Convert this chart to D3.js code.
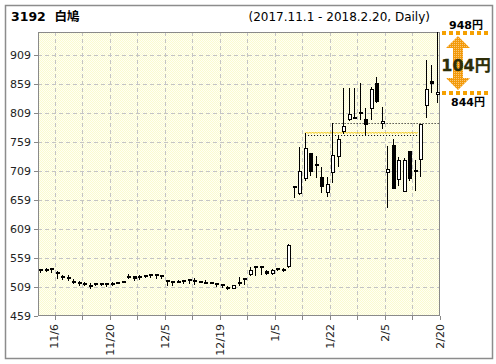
<!DOCTYPE html>
<html>
<head>
<meta charset="utf-8">
<script src="https://cdn.jsdelivr.net/npm/d3@7"></script>
<style>
  body { margin: 0; background: #fff; }
  svg { display: block; font-family: Verdana, "DejaVu Sans", "Noto Sans CJK JP", sans-serif; }
</style>
</head>
<body>
<svg id="chart" width="496" height="364"></svg>
<script>
'use strict';

// trading days, 2017.11.1 - 2018.2.20
const dates = [
  '11/1', '11/2', '11/6', '11/7', '11/8', '11/9', '11/10', '11/13', '11/14', '11/15',
  '11/16', '11/17', '11/20', '11/21', '11/22', '11/24', '11/27', '11/28', '11/29', '11/30',
  '12/1', '12/4', '12/5', '12/6', '12/7', '12/8', '12/11', '12/12', '12/13', '12/14',
  '12/15', '12/18', '12/19', '12/20', '12/21', '12/22', '12/25', '12/26', '12/27', '12/28',
  '12/29', '1/4', '1/5', '1/9', '1/10', '1/11', '1/12', '1/15', '1/16', '1/17',
  '1/18', '1/19', '1/22', '1/23', '1/24', '1/25', '1/26', '1/29', '1/30', '1/31',
  '2/1', '2/2', '2/5', '2/6', '2/7', '2/8', '2/9', '2/13', '2/14', '2/15',
  '2/16', '2/19', '2/20',
];

const open = [
  540, 540, 541, 534, 528, 527, 519, 517, 515, 512,
  515, 516, 516, 515, 517, 519, 528, 528, 528, 530,
  531, 531, 530, 521, 520, 520, 521, 522, 521, 519,
  518, 517, 516, 514, 509, 507, 518, 525, 531, 545,
  545, 537, 533, 542, 540, 544, 683, 671, 696, 739,
  720, 698, 673, 707, 733, 778, 799, 802, 811, 799,
  817, 860, 791, 706, 754, 695, 675, 743, 711, 728,
  821, 864, 840,
];
const high = [
  540, 542, 541, 536, 530, 530, 523, 519, 518, 516,
  515, 516, 516, 517, 518, 519, 531, 528, 530, 530,
  531, 531, 530, 521, 520, 521, 521, 522, 524, 519,
  521, 517, 516, 514, 511, 512, 526, 525, 543, 545,
  545, 538, 540, 542, 542, 583, 683, 750, 774, 740,
  734, 716, 699, 791, 771, 851, 851, 851, 860, 817,
  854, 871, 819, 752, 763, 732, 731, 743, 728, 789,
  899, 891, 948,
];
const low = [
  535, 536, 534, 525, 522, 521, 516, 512, 512, 507,
  512, 512, 511, 512, 515, 517, 524, 521, 522, 527,
  526, 525, 524, 513, 513, 519, 516, 515, 514, 517,
  515, 515, 511, 509, 505, 507, 512, 514, 530, 530,
  532, 531, 532, 538, 537, 543, 664, 669, 693, 702,
  699, 673, 666, 690, 717, 774, 796, 801, 799, 771,
  799, 828, 782, 647, 679, 684, 674, 693, 676, 700,
  802, 845, 828,
];
const close = [
  539, 540, 538, 534, 528, 527, 516, 514, 514, 509,
  515, 516, 515, 515, 517, 519, 528, 522, 528, 530,
  529, 529, 526, 521, 516, 520, 520, 520, 517, 517,
  518, 515, 516, 514, 506, 512, 518, 525, 538, 543,
  542, 532, 538, 538, 540, 581, 681, 709, 748, 707,
  716, 681, 687, 737, 763, 786, 807, 802, 807, 788,
  849, 828, 795, 712, 679, 728, 728, 695, 709, 789,
  849, 858, 844,
];

const yTicks = [459, 509, 559, 609, 659, 709, 759, 809, 859, 909];
const tickDates = ['11/6', '11/13', '11/20', '11/28', '12/5', '12/12', '12/19', '12/26',
  '1/5', '1/15', '1/22', '1/29', '2/5', '2/13', '2/20'];
const labelDates = ['11/6', '11/20', '12/5', '12/19', '1/5', '1/22', '2/5', '2/20'];

// horizontal guide lines
const resistance = { price: 774, from: '1/16', to: '2/14' };
const prevHigh = { price: 791, from: '1/23', to: '2/20' };

const rangeHigh = 948;
const rangeLast = 844;

const code = '3192';
const name = '白鳩';
const period = '(2017.11.1 - 2018.2.20, Daily)';

const margin = { top: 32, right: 56, bottom: 48, left: 38 };
const width = 496;
const height = 364;

const svg = d3.select('#chart');

const x = d3
  .scaleBand()
  .domain(dates)
  .range([margin.left, width - margin.right]);
const bw = x.bandwidth();
const cx = function(d) {
  return x(d) + bw / 2;
};

const y = d3
  .scaleLinear()
  .domain([459, 948])
  .range([height - margin.bottom, margin.top]);

const plotL = margin.left;
const plotR = width - margin.right;
const plotT = margin.top;
const plotB = height - margin.bottom;

// background patterns
const defs = svg.append('defs');
const bgPat = defs
  .append('pattern')
  .attr('id', 'bg-dots')
  .attr('width', 2)
  .attr('height', 2)
  .attr('patternUnits', 'userSpaceOnUse');
bgPat.append('rect').attr('width', 2).attr('height', 2).attr('fill', '#fffff4');
bgPat.append('rect').attr('width', 1).attr('height', 1).attr('fill', '#fafad0');
bgPat.append('rect').attr('x', 1).attr('y', 1).attr('width', 1).attr('height', 1).attr('fill', '#fafad0');

const arPat = defs
  .append('pattern')
  .attr('id', 'arrow-dots')
  .attr('width', 2)
  .attr('height', 2)
  .attr('patternUnits', 'userSpaceOnUse');
arPat.append('rect').attr('width', 2).attr('height', 2).attr('fill', '#f39a0a');
arPat.append('rect').attr('width', 1).attr('height', 1).attr('fill', '#f9c878');

// outer frame
svg
  .append('rect')
  .attr('x', 5.5)
  .attr('y', 5.5)
  .attr('width', 487)
  .attr('height', 353)
  .attr('fill', '#fff')
  .attr('stroke', '#8c8c8c')
  .attr('stroke-width', 1.5);

// title
svg
  .append('text')
  .attr('x', 11)
  .attr('y', 21)
  .attr('font-size', 12.5)
  .attr('font-weight', 'bold')
  .attr('fill', '#000')
  .attr('xml:space', 'preserve')
  .text(code + '  ' + name);

svg
  .append('text')
  .attr('x', 430)
  .attr('y', 21)
  .attr('text-anchor', 'end')
  .attr('font-size', 12)
  .attr('fill', '#000')
  .text(period);

// plot area
svg
  .append('rect')
  .attr('x', plotL)
  .attr('y', plotT)
  .attr('width', plotR - plotL)
  .attr('height', plotB - plotT)
  .attr('fill', 'url(#bg-dots)');

const grid = svg.append('g').attr('class', 'grid');
grid
  .selectAll('.hgrid')
  .data(yTicks.slice(1))
  .enter()
  .append('line')
  .attr('x1', plotL)
  .attr('x2', plotR)
  .attr('y1', function(d) {
    return Math.round(y(d)) + 0.5;
  })
  .attr('y2', function(d) {
    return Math.round(y(d)) + 0.5;
  })
  .attr('stroke', '#c4c4c4')
  .attr('stroke-dasharray', '4,3');

grid
  .selectAll('.vgrid')
  .data(tickDates.slice(0, -1))
  .enter()
  .append('line')
  .attr('x1', function(d) {
    return Math.round(x(d) + bw) + 0.5;
  })
  .attr('x2', function(d) {
    return Math.round(x(d) + bw) + 0.5;
  })
  .attr('y1', plotT)
  .attr('y2', plotB)
  .attr('stroke', '#c4c4c4')
  .attr('stroke-dasharray', '4,3');

// y axis
const yAxis = svg.append('g').attr('class', 'y-axis');
yAxis
  .selectAll('line')
  .data(yTicks)
  .enter()
  .append('line')
  .attr('x1', plotL - 4)
  .attr('x2', plotL)
  .attr('y1', function(d) {
    return Math.round(y(d)) + 0.5;
  })
  .attr('y2', function(d) {
    return Math.round(y(d)) + 0.5;
  })
  .attr('stroke', '#888');
yAxis
  .selectAll('text')
  .data(yTicks)
  .enter()
  .append('text')
  .attr('x', plotL - 7)
  .attr('y', function(d) {
    return y(d);
  })
  .attr('dy', '0.36em')
  .attr('text-anchor', 'end')
  .attr('font-size', 11)
  .attr('fill', '#222')
  .text(function(d) {
    return d;
  });

// x axis
const xAxis = svg.append('g').attr('class', 'x-axis');
xAxis
  .selectAll('line')
  .data(tickDates)
  .enter()
  .append('line')
  .attr('x1', function(d) {
    return Math.round(x(d) + bw) + 0.5;
  })
  .attr('x2', function(d) {
    return Math.round(x(d) + bw) + 0.5;
  })
  .attr('y1', plotB)
  .attr('y2', plotB + 4)
  .attr('stroke', '#888');
xAxis
  .selectAll('text')
  .data(labelDates)
  .enter()
  .append('text')
  .attr('transform', function(d) {
    return 'translate(' + (x(d) + bw) + ',' + (plotB + 8) + ') rotate(-90)';
  })
  .attr('dy', '0.36em')
  .attr('text-anchor', 'end')
  .attr('font-size', 11)
  .attr('fill', '#222')
  .text(function(d) {
    return d;
  });

// plot border
svg
  .append('rect')
  .attr('x', plotL + 0.5)
  .attr('y', plotT + 0.5)
  .attr('width', plotR - plotL - 1)
  .attr('height', plotB - plotT - 1)
  .attr('fill', 'none')
  .attr('stroke', '#8a8a8a');

// guide lines
function zigzag(x1, x2, yy) {
  let p = 'M' + x1 + ',' + yy;
  let up = true;
  for (let xx = x1 + 1.5; xx <= x2; xx += 1.5) {
    p += 'L' + xx + ',' + (up ? yy - 1.5 : yy);
    up = !up;
  }
  return p;
}
const rY = Math.round(y(resistance.price)) + 0.5;
svg
  .append('path')
  .attr('d', zigzag(cx(resistance.from), x(resistance.to) + bw, rY))
  .attr('fill', 'none')
  .attr('stroke', '#f2c200')
  .attr('stroke-width', 1);
svg
  .append('line')
  .attr('x1', cx(resistance.from))
  .attr('x2', x(resistance.to) + bw)
  .attr('y1', rY + 2)
  .attr('y2', rY + 2)
  .attr('stroke', '#000')
  .attr('stroke-dasharray', '1,2');
const pY = Math.round(y(prevHigh.price)) + 0.5;
svg
  .append('line')
  .attr('x1', cx(prevHigh.from))
  .attr('x2', plotR)
  .attr('y1', pY)
  .attr('y2', pY)
  .attr('stroke', '#000')
  .attr('stroke-dasharray', '1,2');

// candles
const candles = svg
  .append('g')
  .attr('class', 'candles')
  .selectAll('g')
  .data(dates.map(function(d, i) {
    return { date: d, o: open[i], h: high[i], l: low[i], c: close[i] };
  }))
  .enter()
  .append('g');

candles
  .append('line')
  .attr('x1', function(d) {
    return Math.floor(cx(d.date)) + 0.5;
  })
  .attr('x2', function(d) {
    return Math.floor(cx(d.date)) + 0.5;
  })
  .attr('y1', function(d) {
    return Math.round(y(d.h));
  })
  .attr('y2', function(d) {
    return Math.round(y(d.l)) + 1;
  })
  .attr('stroke', '#000');

candles
  .append('rect')
  .attr('x', function(d) {
    const p = Math.floor(cx(d.date));
    return d.c > d.o ? p - 0.5 : p - 1;
  })
  .attr('y', function(d) {
    const t = Math.round(y(Math.max(d.o, d.c)));
    return d.c > d.o ? t + 0.5 : t;
  })
  .attr('width', function(d) {
    return d.c > d.o ? 3 : 4;
  })
  .attr('height', function(d) {
    const hgt = Math.round(Math.abs(y(d.o) - y(d.c)));
    if (d.c > d.o) return Math.max(1, hgt);
    return Math.max(2, hgt);
  })
  .attr('fill', function(d) {
    return d.c > d.o ? '#fff' : '#000';
  })
  .attr('stroke', function(d) {
    return d.c > d.o ? '#000' : 'none';
  });

// range annotation on the right
const annX1 = plotR + 2;
const annX2 = width - 5;
const annCx = 458;
const hiY = Math.round(y(rangeHigh));
const loY = Math.round(y(rangeLast));

[hiY, loY].forEach(function(yy) {
  svg
    .append('line')
    .attr('x1', annX1)
    .attr('x2', annX2)
    .attr('y1', yy + 1)
    .attr('y2', yy + 1)
    .attr('stroke', '#f5a000')
    .attr('stroke-width', 4)
    .attr('stroke-dasharray', '4,3');
});

const headH = 12;
const headW = 12;
const shaftW = 5;
const aT = hiY + 4;
const aB = loY - 2;
const arrowPath =
  'M' + annCx + ',' + aT +
  'L' + (annCx + headW) + ',' + (aT + headH) +
  'L' + (annCx + shaftW) + ',' + (aT + headH) +
  'L' + (annCx + shaftW) + ',' + (aB - headH) +
  'L' + (annCx + headW) + ',' + (aB - headH) +
  'L' + annCx + ',' + aB +
  'L' + (annCx - headW) + ',' + (aB - headH) +
  'L' + (annCx - shaftW) + ',' + (aB - headH) +
  'L' + (annCx - shaftW) + ',' + (aT + headH) +
  'L' + (annCx - headW) + ',' + (aT + headH) + 'Z';
svg
  .append('path')
  .attr('d', arrowPath)
  .attr('fill', 'url(#arrow-dots)');

svg
  .append('text')
  .attr('x', 466)
  .attr('y', hiY - 3)
  .attr('text-anchor', 'middle')
  .attr('font-size', 11)
  .attr('font-weight', 'bold')
  .attr('fill', '#000')
  .text(rangeHigh + '円');

svg
  .append('text')
  .attr('x', 468)
  .attr('y', loY + 14)
  .attr('text-anchor', 'middle')
  .attr('font-size', 11)
  .attr('font-weight', 'bold')
  .attr('fill', '#000')
  .text(rangeLast + '円');

svg
  .append('text')
  .attr('x', 466)
  .attr('y', (hiY + loY) / 2 + 9)
  .attr('text-anchor', 'middle')
  .attr('font-size', 16)
  .attr('font-weight', 'bold')
  .attr('fill', '#2e2e08')
  .attr('stroke', '#2e2e08')
  .attr('stroke-width', 0.3)
  .text(rangeHigh - rangeLast + '円');
</script>
</body>
</html>
